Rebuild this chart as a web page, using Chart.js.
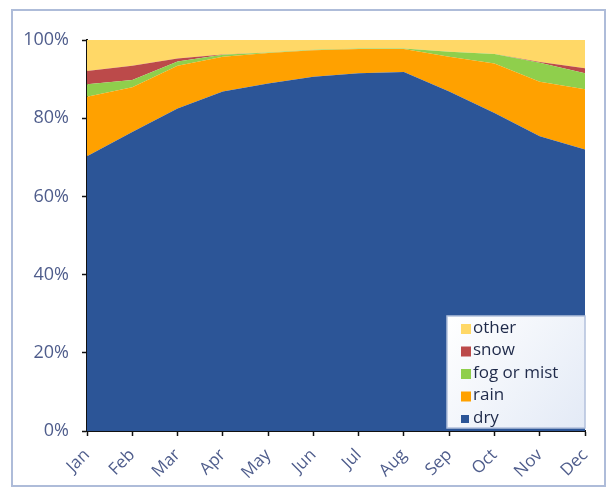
<!DOCTYPE html>
<html>
<head>
<meta charset="utf-8">
<style>
  html, body { margin: 0; padding: 0; background: #ffffff; }
  #wrap { position: relative; width: 609px; height: 488px; }
</style>
<script src="https://cdn.jsdelivr.net/npm/chart.js@4/dist/chart.umd.min.js"></script>
</head>
<body>
<div id="wrap"><canvas id="chart" width="609" height="488"></canvas></div>
<script>
// Monthly share of weather conditions (% of days)
const months = ['Jan', 'Feb', 'Mar', 'Apr', 'May', 'Jun', 'Jul', 'Aug', 'Sep', 'Oct', 'Nov', 'Dec'];
const dry   = [70.3, 76.5, 82.5, 86.8, 88.9, 90.6, 91.5, 91.8, 86.8, 81.3, 75.4, 72.0];
const rain  = [15.2, 11.4, 10.9,  8.9,  7.8,  6.8,  6.2,  5.9,  8.9, 12.7, 13.9, 15.4];
const fog   = [ 3.2,  1.9,  1.1,  0.5,  0.1,  0.1,  0.1,  0.1,  1.3,  2.4,  4.9,  4.1];
const snow  = [ 3.4,  3.6,  0.8,  0.1,  0.0,  0.0,  0.0,  0.0,  0.0,  0.0,  0.2,  1.3];
const other = [ 7.9,  6.6,  4.7,  3.7,  3.2,  2.5,  2.3,  2.2,  3.0,  3.6,  5.6,  7.2];
const yTicks = [0, 20, 40, 60, 80, 100];

const FONT = '"Open Sans", Lato, sans-serif';
const LABEL_COLOR = '#4f5d8c';

function area(label, data, color, fill) {
  return {
    label, data, fill,
    backgroundColor: color,
    borderColor: color,
    borderWidth: 0,
    pointRadius: 0,
    pointHoverRadius: 0,
    tension: 0
  };
}

// Frame around the whole figure
const framePlugin = {
  id: 'frame',
  beforeDraw(chart) {
    const c = chart.ctx;
    c.save();
    c.fillStyle = '#ffffff';
    c.fillRect(0, 0, chart.width, chart.height);
    c.strokeStyle = '#aebcd9';
    c.lineWidth = 2;
    c.strokeRect(12, 10, 593, 476);
    c.restore();
  }
};

// Legend box drawn inside the plot, bottom-right corner
const insetLegend = {
  id: 'insetLegend',
  afterDraw(chart) {
    const c = chart.ctx;
    const area = chart.chartArea;
    const w = 138, h = 112;
    const x = area.right - w, y = area.bottom - h - 3;
    c.save();
    const g = c.createLinearGradient(x, y, x + w, y + h);
    g.addColorStop(0, '#ffffff');
    g.addColorStop(1, '#e3eaf6');
    c.fillStyle = g;
    c.fillRect(x, y, w, h);
    c.strokeStyle = '#b3c1dc';
    c.lineWidth = 1.5;
    c.strokeRect(x, y, w, h);
    const sets = chart.data.datasets.slice().reverse();
    c.font = '17px ' + FONT;
    c.textBaseline = 'middle';
    sets.forEach((ds, i) => {
      const cy = y + 12 + i * 22.5;
      c.fillStyle = ds.backgroundColor;
      const s = ds.label === 'dry' ? 8 : 10;
      c.fillRect(x + 14, cy - s / 2 + 1, s, s);
      c.fillStyle = '#1f2a4a';
      c.fillText(ds.label, x + 26, cy);
    });
    c.restore();
  }
};

new Chart(document.getElementById('chart'), {
  type: 'line',
  data: {
    labels: months,
    datasets: [
      area('dry', dry, '#2c5597', 'origin'),
      area('rain', rain, '#ffa100', '-1'),
      area('fog or mist', fog, '#8fcf4c', '-1'),
      area('snow', snow, '#bc4a4a', '-1'),
      area('other', other, '#ffd867', '-1')
    ]
  },
  options: {
    responsive: false,
    animation: false,
    devicePixelRatio: 1,
    layout: { padding: { left: 0, right: 24, top: 40, bottom: 0 } },
    plugins: {
      legend: { display: false },
      tooltip: { enabled: false },
      title: { display: false }
    },
    scales: {
      x: {
        type: 'category',
        offset: false,
        grid: { display: true, drawOnChartArea: false, drawTicks: true, tickLength: 5, tickColor: '#111111', tickWidth: 1.5 },
        border: { display: true, color: '#111111', width: 2 },
        ticks: {
          color: LABEL_COLOR,
          font: { family: FONT, size: 17 },
          minRotation: 45,
          maxRotation: 45,
          autoSkip: false,
          padding: 9
        },
        afterFit(scale) { scale.height = 57; }
      },
      y: {
        stacked: true,
        min: 0,
        max: 100,
        afterBuildTicks(scale) { scale.ticks = yTicks.map(v => ({ value: v })); },
        grid: { display: true, drawOnChartArea: false, drawTicks: true, tickLength: 5, tickColor: '#111111', tickWidth: 1.5 },
        border: { display: true, color: '#111111', width: 2 },
        ticks: {
          color: LABEL_COLOR,
          font: { family: FONT, size: 18 },
          padding: 13,
          callback: v => v + '%'
        },
        afterFit(scale) { scale.width = 87; }
      }
    }
  },
  plugins: [framePlugin, insetLegend]
});
</script>
</body>
</html>
